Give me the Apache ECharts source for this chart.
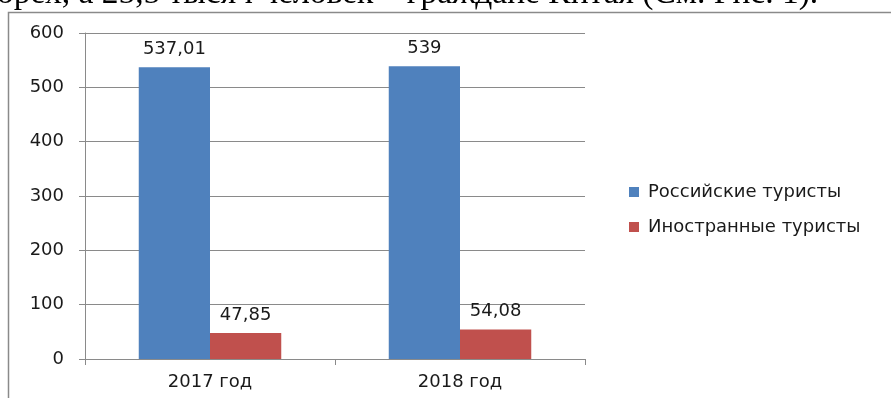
<!DOCTYPE html>
<html>
<head>
<meta charset="utf-8">
<script src="https://cdn.jsdelivr.net/npm/echarts@6/dist/echarts.min.js"></script>
<style>
html,body{margin:0;padding:0;background:#fff;}
#c{width:891px;height:398px;}
</style>
</head>
<body>
<div id="c"></div>
<script>
const categories = ['2017 год', '2018 год'];
const russianTourists = [537.01, 539];
const foreignTourists = [47.85, 54.08];
const seriesNames = ['Российские туристы', 'Иностранные туристы'];
const yTicks = [0, 100, 200, 300, 400, 500, 600];
const captionText = 'орех, а 25,5 тысяч человек – граждане Китая (См. Рис. 1).';

const FONT = 'DejaVu Sans';
const chart = echarts.init(document.getElementById('c'), null, {renderer: 'canvas'});
const fmt = v => String(v).replace('.', ',');
const labelCfg = {
  show: true, position: 'top', distance: 9,
  fontFamily: FONT, fontSize: 18, color: '#1a1a1a',
  formatter: p => fmt(p.value)
};
chart.setOption({
  animation: false,
  backgroundColor: '#fff',
  graphic: [
    {type: 'text', left: -3, top: -23, style: {text: captionText, font: '33.5px "Liberation Serif"', fill: '#000'}},
    {type: 'rect', shape: {x: 8.5, y: 12.5, width: 1000, height: 500}, style: {fill: 'none', stroke: '#8a8a8a', lineWidth: 1.5}, silent: true, z: -1}
  ],
  grid: {left: 85, right: 306, top: 33, bottom: 39},
  legend: {
    orient: 'vertical', left: 629, top: 183, padding: 0,
    itemWidth: 10, itemHeight: 10, itemGap: 17,
    icon: 'rect',
    textStyle: {fontFamily: FONT, fontSize: 18, color: '#1a1a1a', padding: [0, 0, 0, 4]},
    data: seriesNames
  },
  xAxis: {
    type: 'category', data: categories,
    axisLine: {lineStyle: {color: '#8a8a8a', width: 1}},
    axisTick: {show: true, length: 6, lineStyle: {color: '#8a8a8a'}},
    axisLabel: {fontFamily: FONT, fontSize: 18, color: '#1a1a1a', margin: 14}
  },
  yAxis: {
    type: 'value', min: yTicks[0], max: yTicks[yTicks.length - 1], interval: 100,
    axisLine: {show: true, lineStyle: {color: '#8a8a8a', width: 1}},
    axisTick: {show: true, length: 6, lineStyle: {color: '#8a8a8a'}},
    splitLine: {lineStyle: {color: '#8a8a8a', width: 1}},
    axisLabel: {fontFamily: FONT, fontSize: 18, color: '#1a1a1a', margin: 21}
  },
  series: [
    {name: seriesNames[0], type: 'bar', data: russianTourists, barGap: '0%', barCategoryGap: '43%',
     itemStyle: {color: '#4F81BD'}, label: labelCfg},
    {name: seriesNames[1], type: 'bar', data: foreignTourists, barGap: '0%', barCategoryGap: '43%',
     itemStyle: {color: '#C0504D'}, label: labelCfg}
  ]
});
</script>
</body>
</html>
